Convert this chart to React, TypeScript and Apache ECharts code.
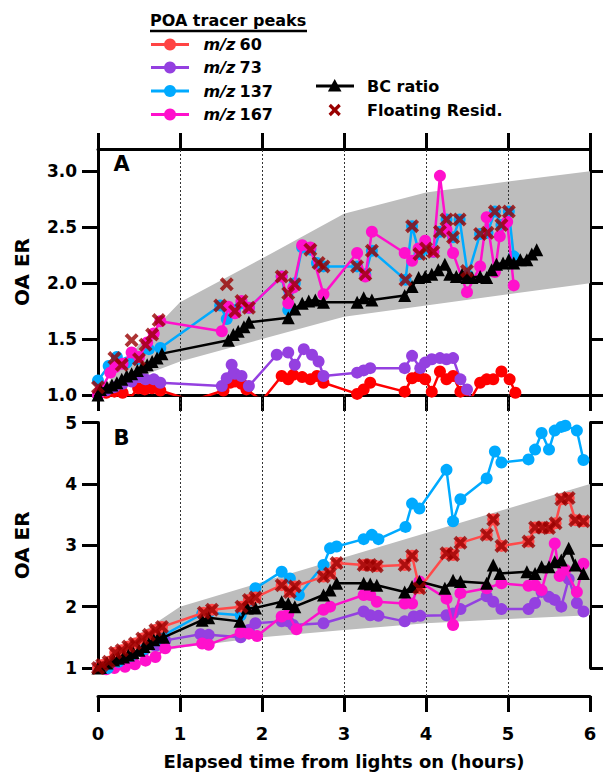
import React, { useEffect, useRef } from 'react';
import * as echarts from 'echarts';

const FONT = 'DejaVu Sans';

// ---------- tick / legend labels ----------
const xTicks = [0, 1, 2, 3, 4, 5, 6];
const yTicksA = [1.0, 1.5, 2.0, 2.5, 3.0];
const yTicksB = [1, 2, 3, 4, 5];
const dividerHours = [1, 2, 3, 4, 5];
const poaNumbers = ['60', '73', '137', '167'];
const xTitle = 'Elapsed time from lights on (hours)';
const yTitle = 'OA ER';

// ---------- grey bands ----------
const bandX = [0, 0.5, 1, 2, 3, 4, 5, 6];
const bandAUpper = [1.0, 1.45, 1.83, 2.22, 2.62, 2.81, 2.91, 3.0];
const bandALower = [1.0, 1.16, 1.3, 1.5, 1.7, 1.8, 1.9, 2.0];
const bandBUpper = [1.0, 1.55, 2.0, 2.4, 2.8, 3.2, 3.6, 4.0];
const bandBLower = [1.0, 1.2, 1.33, 1.5, 1.62, 1.73, 1.8, 1.86];

// ---------- panel A ----------
const mz60A = [[0,1.0],[0.1,1.02],[0.2,1.03],[0.3,1.02],[0.41,0.99],[0.49,1.06],[0.57,1.05],[0.66,1.06],[0.76,1.04],[1.15,0.95],[1.53,1.04],[1.61,1.11],[1.67,1.12],[1.75,1.10],[1.81,1.05],[2.0,0.95],[2.24,1.17],[2.32,1.14],[2.38,1.18],[2.49,1.16],[2.59,1.14],[2.67,1.17],[2.75,1.11],[3.16,1.01],[3.24,1.05],[3.32,1.11],[3.74,1.03],[3.83,1.15],[3.91,1.17],[3.99,1.14],[4.07,1.03],[4.17,1.21],[4.25,1.14],[4.33,1.17],[4.42,1.03],[4.55,0.97],[4.66,1.11],[4.74,1.14],[4.82,1.14],[4.92,1.21],[5.02,1.14],[5.09,1.02]];
const mz73A = [[0,1.0],[0.1,1.04],[0.2,1.07],[0.3,1.1],[0.41,1.12],[0.5,1.16],[0.58,1.14],[0.68,1.14],[0.76,1.11],[1.51,1.08],[1.57,1.15],[1.63,1.27],[1.67,1.19],[1.75,1.17],[1.84,1.08],[2.18,1.36],[2.32,1.38],[2.40,1.27],[2.51,1.41],[2.61,1.36],[2.69,1.30],[2.75,1.17],[3.16,1.20],[3.24,1.22],[3.32,1.24],[3.74,1.24],[3.83,1.35],[3.93,1.24],[3.99,1.29],[4.07,1.32],[4.17,1.33],[4.25,1.32],[4.33,1.33],[4.42,1.14],[4.50,1.05],[4.54,0.99]];
const mz137A = [[0,1.13],[0.13,1.26],[0.23,1.34],[0.35,1.29],[0.47,1.32],[0.62,1.41],[0.76,1.42],[1.49,1.80],[1.57,1.68],[1.67,1.76],[1.75,1.82],[1.84,1.78],[2.24,2.06],[2.32,1.76],[2.40,2.00],[2.49,2.32],[2.59,2.30],[2.67,2.18],[2.75,2.15],[3.16,2.15],[3.26,2.08],[3.34,2.29],[3.75,2.03],[3.83,2.51],[3.92,2.26],[4.00,2.31],[4.09,2.28],[4.17,2.46],[4.25,2.57],[4.33,2.41],[4.41,2.57],[4.51,2.07],[4.66,2.44],[4.75,2.45],[4.84,2.64],[4.92,2.52],[5.01,2.64],[5.07,2.24]];
const mz167A = [[0,1.0],[0.03,1.04],[0.15,1.2],[0.21,1.25],[0.3,1.28],[0.41,1.38],[0.5,1.34],[0.6,1.47],[0.68,1.55],[0.76,1.66],[1.51,1.57],[1.59,1.79],[1.67,1.73],[1.75,1.84],[1.84,1.78],[2.24,2.06],[2.32,1.82],[2.38,1.96],[2.49,2.34],[2.59,2.32],[2.75,1.90],[3.16,2.27],[3.26,2.06],[3.34,2.46],[3.74,2.27],[3.83,2.20],[3.91,2.31],[3.99,2.38],[4.09,2.28],[4.17,2.96],[4.25,2.48],[4.33,2.27],[4.50,1.92],[4.66,2.15],[4.74,2.59],[4.84,2.10],[4.90,2.42],[4.99,2.55],[5.07,1.98]];
const bcA = [[0,1.0],[0.03,1.05],[0.11,1.07],[0.17,1.09],[0.23,1.11],[0.29,1.14],[0.35,1.17],[0.41,1.19],[0.48,1.22],[0.54,1.25],[0.6,1.27],[0.66,1.3],[0.72,1.33],[0.78,1.37],[1.59,1.49],[1.65,1.54],[1.71,1.57],[1.78,1.61],[1.84,1.65],[2.32,1.69],[2.40,1.77],[2.49,1.82],[2.57,1.84],[2.65,1.85],[2.75,1.83],[3.16,1.83],[3.24,1.87],[3.34,1.85],[3.74,1.89],[3.83,1.97],[3.91,2.05],[3.99,2.06],[4.07,2.08],[4.15,2.12],[4.23,2.17],[4.29,2.08],[4.37,2.06],[4.44,2.08],[4.50,2.05],[4.56,2.05],[4.66,2.06],[4.74,2.05],[4.80,2.12],[4.86,2.17],[4.94,2.18],[5.01,2.21],[5.07,2.18],[5.15,2.21],[5.23,2.21],[5.29,2.26],[5.35,2.30]];
const residA = [[0.0,1.07],[0.2,1.33],[0.29,1.27],[0.41,1.49],[0.5,1.32],[0.58,1.45],[0.66,1.54],[0.74,1.67],[1.49,1.80],[1.57,1.99],[1.67,1.75],[1.75,1.84],[1.84,1.78],[2.24,2.06],[2.32,1.91],[2.40,1.99],[2.59,2.30],[2.69,2.18],[2.75,2.15],[3.16,2.15],[3.26,2.08],[3.34,2.29],[3.75,2.03],[3.83,2.51],[3.92,2.26],[4.00,2.31],[4.09,2.28],[4.17,2.46],[4.25,2.57],[4.33,2.41],[4.41,2.57],[4.50,2.11],[4.66,2.44],[4.75,2.45],[4.84,2.64],[4.92,2.52],[5.01,2.64]];

// ---------- panel B ----------
const mz60B = [[0,1.0],[0.05,1.05],[0.13,1.1],[0.21,1.25],[0.29,1.29],[0.37,1.35],[0.45,1.4],[0.54,1.48],[0.62,1.54],[0.7,1.62],[0.78,1.67],[1.29,1.9],[1.39,1.95],[1.75,2.0],[1.84,2.11],[1.92,2.15],[2.24,2.35],[2.34,2.24],[2.40,2.33],[2.75,2.49],[2.83,2.54],[2.91,2.71],[3.24,2.68],[3.32,2.68],[3.40,2.66],[3.74,2.68],[3.83,2.83],[3.92,2.30],[4.25,2.87],[4.33,2.84],[4.42,3.04],[4.74,3.17],[4.82,3.42],[4.92,2.99],[5.25,3.06],[5.33,3.29],[5.42,3.29],[5.50,3.28],[5.58,3.36],[5.65,3.75],[5.74,3.77],[5.82,3.41],[5.92,3.39]];
const mz73B = [[0,1.0],[0.1,1.02],[0.25,1.08],[0.4,1.16],[0.55,1.26],[0.7,1.36],[0.82,1.45],[1.25,1.55],[1.35,1.54],[1.74,1.5],[1.84,1.62],[1.92,1.73],[2.24,1.76],[2.32,1.76],[2.38,1.70],[2.75,1.73],[3.24,1.92],[3.32,1.86],[3.42,1.85],[3.74,1.76],[3.85,1.84],[3.93,1.85],[4.25,1.86],[4.33,1.89],[4.42,1.96],[4.74,2.17],[4.82,2.08],[4.92,1.96],[5.25,1.96],[5.33,2.06],[5.41,2.24],[5.50,2.16],[5.57,2.11],[5.65,2.0],[5.74,2.45],[5.84,2.06],[5.92,1.92]];
const mz137B = [[0,1.0],[0.12,1.0],[0.25,1.1],[0.4,1.2],[0.55,1.3],[0.7,1.45],[0.78,1.52],[1.27,1.88],[1.35,1.9],[1.74,1.86],[1.84,2.1],[1.92,2.3],[2.24,2.57],[2.34,2.46],[2.45,2.19],[2.75,2.68],[2.83,2.95],[2.91,2.98],[3.24,3.1],[3.34,3.17],[3.42,3.1],[3.75,3.3],[3.83,3.68],[3.92,3.6],[4.25,4.23],[4.33,3.39],[4.42,3.75],[4.74,4.09],[4.84,4.53],[4.92,4.35],[5.25,4.4],[5.33,4.56],[5.41,4.83],[5.5,4.56],[5.57,4.87],[5.65,4.93],[5.70,4.95],[5.84,4.87],[5.92,4.39]];
const mz167B = [[0,1.0],[0.1,0.98],[0.2,1.0],[0.33,1.02],[0.45,1.06],[0.58,1.12],[0.7,1.18],[0.82,1.32],[1.27,1.4],[1.35,1.38],[1.74,1.58],[1.84,1.56],[1.94,1.52],[2.24,1.84],[2.32,1.88],[2.42,1.63],[2.75,1.95],[2.83,2.0],[3.24,2.19],[3.32,2.19],[3.40,2.08],[3.74,2.05],[3.83,2.05],[3.92,2.41],[4.25,2.13],[4.33,1.70],[4.42,2.22],[4.74,2.30],[4.92,2.38],[5.25,2.34],[5.33,2.35],[5.41,2.27],[5.57,3.03],[5.63,2.5],[5.70,2.6],[5.84,2.24],[5.92,2.70]];
const bcB = [[0,1.0],[0.03,1.01],[0.11,1.08],[0.19,1.13],[0.25,1.16],[0.31,1.18],[0.37,1.21],[0.43,1.25],[0.5,1.29],[0.56,1.35],[0.62,1.4],[0.68,1.46],[0.74,1.51],[0.8,1.5],[1.27,1.78],[1.35,1.82],[1.73,1.76],[1.82,1.98],[1.92,1.98],[2.24,2.08],[2.32,2.05],[2.40,2.0],[2.75,2.19],[2.83,2.27],[2.91,2.38],[3.24,2.38],[3.32,2.37],[3.40,2.35],[3.74,2.24],[3.83,2.33],[3.92,2.41],[4.23,2.30],[4.33,2.43],[4.42,2.41],[4.74,2.38],[4.82,2.68],[4.90,2.54],[5.23,2.57],[5.33,2.54],[5.41,2.65],[5.50,2.65],[5.57,2.73],[5.65,2.76],[5.74,2.95],[5.82,2.68],[5.92,2.54]];
const residB = mz60B;

// ---------- styles ----------
const C60 = '#ff0000';
const C60B = '#ff4a4a';
const C73 = '#9440e0';
const C137 = '#00aaff';
const C167 = '#ff10cc';
const CRES = '#990000';
const CBAND = '#bdbdbd';
const legendColors = ['#ff4444', C73, C137, C167];
const X_PATH = 'path://M0,2.4L2.4,0L6,3.6L9.6,0L12,2.4L8.4,6L12,9.6L9.6,12L6,8.4L2.4,12L0,9.6L3.6,6Z';

const GL = 98, GW = 492;
const A_TOP = 149, A_H = 246;
const B_TOP = 422.6, B_H = 245.4;
const X_AXIS_Y = 696;

const lbl = { fontFamily: FONT, fontWeight: 'bold' as const, color: '#000' };

function frameX(gridIndex: number, position: string, extra: any = {}) {
  return {
    gridIndex, type: 'value', position, min: 0, max: 6, interval: 1,
    axisLine: { show: true, onZero: false, lineStyle: { color: '#000', width: 3 } },
    axisTick: { show: true, inside: false, length: 16, lineStyle: { color: '#000', width: 3 } },
    axisLabel: { show: false },
    splitLine: { show: false },
    ...extra,
  };
}

function frameY(gridIndex: number, position: string, min: number, max: number, ticks: number[], extra: any = {}) {
  return {
    gridIndex, type: 'value', position, min, max,
    axisLine: { show: true, onZero: false, lineStyle: { color: '#000', width: 3 } },
    axisTick: { show: true, inside: false, length: 16, customValues: ticks, lineStyle: { color: '#000', width: 3 } },
    axisLabel: { show: false, customValues: ticks },
    splitLine: { show: false },
    ...extra,
  };
}

function lineS(data: number[][], color: string, xi: number, yi: number, symbol = 'circle', clip = true, z = 2) {
  return {
    type: 'line', data, xAxisIndex: xi, yAxisIndex: yi, symbol, symbolSize: symbol === 'triangle' ? 13 : 12, showSymbol: true,
    clip, z, silent: true, animation: false,
    lineStyle: { color, width: 2.5 }, itemStyle: { color },
  };
}

function residS(data: number[][], xi: number, yi: number, clip = true) {
  return {
    type: 'scatter', data, xAxisIndex: xi, yAxisIndex: yi, symbol: X_PATH, symbolSize: 14,
    clip, z: 6, silent: true, itemStyle: { color: CRES },
  };
}

function bandS(xi: number, yi: number, upper: number[], lower: number[]) {
  return {
    type: 'custom', xAxisIndex: xi, yAxisIndex: yi, z: 1, silent: true,
    data: [[0, 1]],
    renderItem: (_p: any, api: any) => {
      const pts: number[][] = [];
      bandX.forEach((x, i) => pts.push(api.coord([x, upper[i]])));
      for (let i = bandX.length - 1; i >= 0; i--) pts.push(api.coord([bandX[i], lower[i]]));
      return { type: 'polygon', shape: { points: pts }, style: { fill: CBAND } };
    },
  };
}

function legendGraphics() {
  const els: any[] = [];
  const txt = (x: number, y: number, text: string, extra: any = {}) => ({
    type: 'text', x, y,
    style: { text, fontFamily: FONT, fontWeight: 'bold', fontSize: 16, fill: '#000', verticalAlign: 'middle', textVerticalAlign: 'middle', ...extra },
  });
  els.push(txt(150, 20, 'POA tracer peaks'));
  els.push({ type: 'line', shape: { x1: 150, y1: 31, x2: 307, y2: 31 }, style: { stroke: '#000', lineWidth: 2.5 } });
  const rowsY = [44.5, 67.5, 91, 114.5];
  poaNumbers.forEach((num, i) => {
    const y = rowsY[i];
    const c = legendColors[i];
    els.push({ type: 'line', shape: { x1: 151, y1: y, x2: 189, y2: y }, style: { stroke: c, lineWidth: 3 } });
    els.push({ type: 'circle', shape: { cx: 170, cy: y, r: 6 }, style: { fill: c } });
    els.push(txt(203.5, y, 'm/z', { fontStyle: 'italic' }));
    els.push(txt(239.5, y, num));
  });
  // BC ratio
  els.push({ type: 'line', shape: { x1: 316, y1: 86, x2: 354, y2: 86 }, style: { stroke: '#000', lineWidth: 3 } });
  els.push({ type: 'polygon', shape: { points: [[334.7, 79], [341.5, 91.5], [327.9, 91.5]] }, style: { fill: '#000' } });
  els.push(txt(367, 86, 'BC ratio'));
  // Floating resid
  els.push({ type: 'line', shape: { x1: 329.7, y1: 105, x2: 339.7, y2: 115 }, style: { stroke: CRES, lineWidth: 3.2 } });
  els.push({ type: 'line', shape: { x1: 339.7, y1: 105, x2: 329.7, y2: 115 }, style: { stroke: CRES, lineWidth: 3.2 } });
  els.push(txt(367, 110, 'Floating Resid.'));
  // panel letters
  els.push(txt(121.5, 164, 'A', { fontSize: 21, align: 'center', textAlign: 'center' }));
  els.push(txt(121.5, 438, 'B', { fontSize: 21, align: 'center', textAlign: 'center' }));
  return els;
}

export default function App() {
  const ref = useRef<HTMLDivElement>(null);
  useEffect(() => {
    if (!ref.current) return;
    const chart = echarts.init(ref.current, undefined, { renderer: 'svg' });
    const option: any = {
      animation: false,
      backgroundColor: '#fff',
      textStyle: { fontFamily: FONT },
      grid: [
        { left: GL, top: A_TOP, width: GW, height: A_H, containLabel: false, outerBoundsMode: 'none' },
        { left: GL, top: B_TOP, width: GW, height: B_H, containLabel: false, outerBoundsMode: 'none' },
        { left: GL, top: A_TOP, width: GW, height: X_AXIS_Y - A_TOP, containLabel: false, outerBoundsMode: 'none' },
      ],
      xAxis: [
        frameX(0, 'bottom'),
        frameX(0, 'top'),
        frameX(1, 'bottom', {
          offset: X_AXIS_Y - (B_TOP + B_H),
          axisLabel: { show: true, ...lbl, fontSize: 18, margin: 28, customValues: xTicks, formatter: (v: number) => String(v) },
          name: xTitle, nameLocation: 'middle', nameGap: 56,
          nameTextStyle: { ...lbl, fontSize: 18 },
        }),
        { gridIndex: 2, type: 'value', min: 0, max: 6, show: false },
      ],
      yAxis: [
        frameY(0, 'left', 1.0, 3.2, yTicksA, {
          axisLabel: { show: true, ...lbl, fontSize: 17, margin: 21, customValues: yTicksA, formatter: (v: number) => v.toFixed(1) },
          name: yTitle, nameLocation: 'middle', nameRotate: 90, nameGap: 66,
          nameTextStyle: { ...lbl, fontSize: 20 },
        }),
        frameY(0, 'right', 1.0, 3.2, yTicksA),
        frameY(1, 'left', 1, 5, yTicksB, {
          axisLabel: { show: true, ...lbl, fontSize: 17, margin: 21, customValues: yTicksB, formatter: (v: number) => String(v) },
          name: yTitle, nameLocation: 'middle', nameRotate: 90, nameGap: 66,
          nameTextStyle: { ...lbl, fontSize: 20 },
        }),
        frameY(1, 'right', 1, 5, yTicksB),
        { gridIndex: 2, type: 'value', min: 0, max: 1, show: false },
      ],
      graphic: { elements: legendGraphics() },
      series: [
        bandS(0, 0, bandAUpper, bandALower),
        bandS(2, 2, bandBUpper, bandBLower),
        {
          type: 'line', xAxisIndex: 3, yAxisIndex: 4, data: [[0, 0.5]], showSymbol: false, silent: true,
          lineStyle: { opacity: 0 },
          markLine: {
            silent: true, symbol: 'none', z: 1.5, animation: false,
            label: { show: false },
            lineStyle: { type: [2, 2], color: '#333', width: 1 },
            data: dividerHours.map((h) => ({ xAxis: h })),
          },
        },
        // panel A
        lineS(mz60A, C60, 0, 0, 'circle', true, 2),
        lineS(mz73A, C73, 0, 0, 'circle', true, 2),
        lineS(mz137A, C137, 0, 0, 'circle', true, 3),
        lineS(mz167A, C167, 0, 0, 'circle', true, 4),
        lineS(bcA, '#000', 0, 0, 'triangle', true, 5),
        residS(residA, 0, 0),
        // panel B
        lineS(mz73B, C73, 2, 2, 'circle', false, 2),
        lineS(mz167B, C167, 2, 2, 'circle', false, 3),
        lineS(mz137B, C137, 2, 2, 'circle', false, 3),
        lineS(mz60B, C60B, 2, 2, 'circle', false, 4),
        lineS(bcB, '#000', 2, 2, 'triangle', false, 5),
        residS(residB, 2, 2, false),
      ],
    };
    chart.setOption(option);
    return () => chart.dispose();
  }, []);
  return <div ref={ref} style={{ width: 603, height: 774, position: 'absolute', left: 0, top: 0 }} />;
}
